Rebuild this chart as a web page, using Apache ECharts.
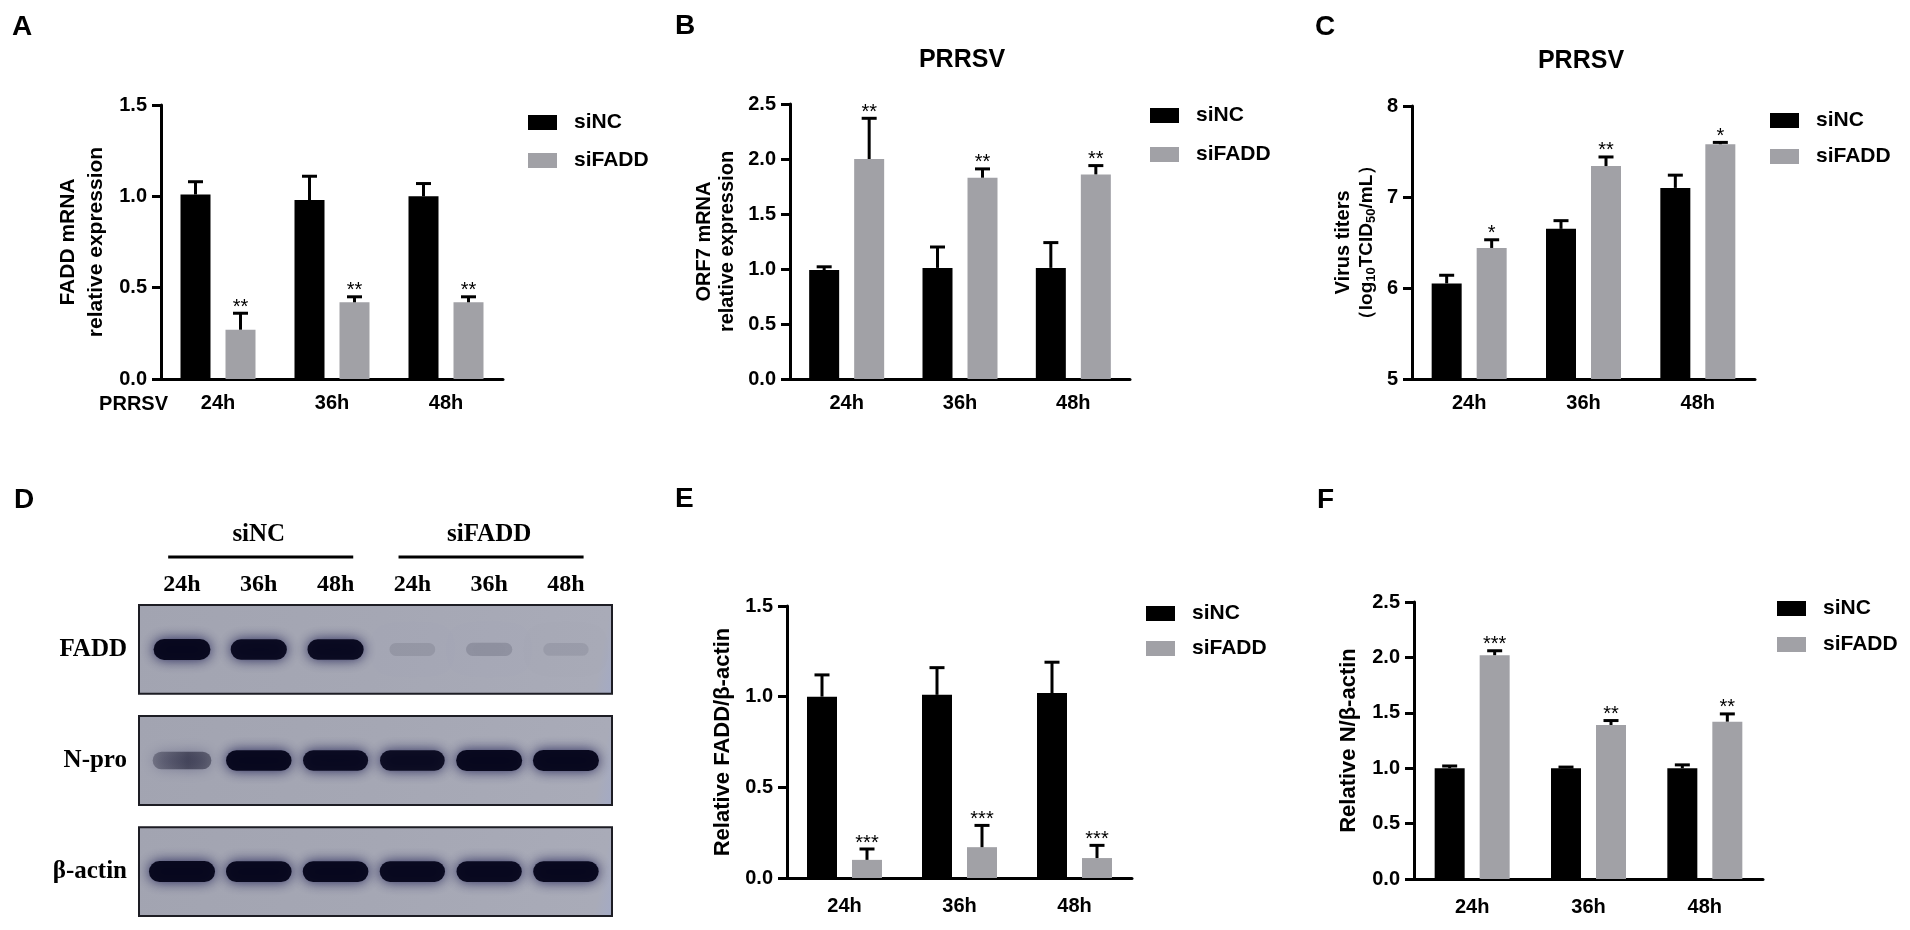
<!DOCTYPE html>
<html><head><meta charset="utf-8">
<script src="https://cdn.jsdelivr.net/npm/echarts@6/dist/echarts.min.js"></script>
<style>html,body{margin:0;padding:0;background:#fff}#c{width:1910px;height:930px}</style>
</head><body><div id="c"></div>
<script>
// ---------- data ----------
const timepoints = ['24h', '36h', '48h'];
const groupNames = ['siNC', 'siFADD'];

// Panel A: FADD mRNA relative expression
const aNC = [1.01, 0.98, 1.00];
const aNCsd = [0.07, 0.13, 0.07];
const aKD = [0.27, 0.42, 0.42];
const aKDsd = [0.09, 0.03, 0.03];
const aStars = ['**', '**', '**'];

// Panel B: ORF7 mRNA relative expression
const bNC = [0.99, 1.01, 1.01];
const bNCsd = [0.03, 0.19, 0.23];
const bKD = [2.00, 1.83, 1.86];
const bKDsd = [0.37, 0.08, 0.08];
const bStars = ['**', '**', '**'];

// Panel C: Virus titers (log10 TCID50/mL)
const cNC = [6.05, 6.65, 7.10];
const cNCsd = [0.09, 0.09, 0.14];
const cKD = [6.44, 7.34, 7.58];
const cKDsd = [0.09, 0.10, 0.02];
const cStars = ['*', '**', '*'];

// Panel E: Relative FADD/β-actin
const eNC = [1.00, 1.01, 1.02];
const eNCsd = [0.12, 0.15, 0.17];
const eKD = [0.10, 0.17, 0.11];
const eKDsd = [0.06, 0.12, 0.07];
const eStars = ['***', '***', '***'];

// Panel F: Relative N/β-actin
const fNC = [1.00, 1.00, 1.00];
const fNCsd = [0.02, 0.01, 0.03];
const fKD = [2.02, 1.39, 1.42];
const fKDsd = [0.04, 0.04, 0.07];
const fStars = ['***', '**', '**'];

// Panel D: western blot (relative band intensity per lane)
const blotRows = ['FADD', 'N-pro', 'β-actin'];
const laneLabels = ['24h', '36h', '48h', '24h', '36h', '48h'];
const faddBand = [1.00, 0.95, 0.95, 0.10, 0.14, 0.08];
const nproBand = [0.60, 0.97, 0.95, 0.93, 1.00, 1.00];
const actinBand = [1.00, 0.98, 0.98, 0.96, 0.96, 0.97];

// ---------- styling ----------
const FONT = 'Arial, "Liberation Sans", Helvetica, sans-serif';
const SERIF = '"Times New Roman", "Liberation Serif", serif';
const GRAY = '#a1a1a6';
const BAR_W = 30, BAR_GAP = 15;

const grids = [
  {left: 161, top: 105, width: 342, height: 274},  // A
  {left: 790, top: 104, width: 340, height: 275},  // B
  {left: 1412, top: 106, width: 343, height: 273}, // C
  {left: 787, top: 606, width: 345, height: 272},  // E
  {left: 1414, top: 602, width: 349, height: 277}, // F
  {left: 139, top: 605, width: 473, height: 311}   // D blot
];

function xAxisFor(i, tickLen, margin) {
  return {
    type: 'category', gridIndex: i, data: timepoints,
    axisLine: {lineStyle: {color: '#000', width: 3}},
    axisTick: {alignWithLabel: true, length: tickLen, lineStyle: {color: '#000', width: 3}},
    axisLabel: {color: '#000', fontFamily: FONT, fontWeight: 'bold', fontSize: 20, margin: margin},
    splitLine: {show: false}
  };
}
function yAxisFor(i, min, max, interval, decimals, name, nameGap, nameStyle) {
  return {
    type: 'value', gridIndex: i, min: min, max: max, interval: interval,
    axisLine: {show: true, lineStyle: {color: '#000', width: 3}},
    axisTick: {show: true, length: 9, lineStyle: {color: '#000', width: 3}},
    axisLabel: {color: '#000', fontFamily: FONT, fontWeight: 'bold', fontSize: 20, margin: 14,
      formatter: v => v.toFixed(decimals)},
    splitLine: {show: false},
    name: name, nameLocation: 'middle', nameRotate: 90, nameGap: nameGap,
    nameTextStyle: nameStyle
  };
}

function errRender(stars) {
  return function (params, api) {
    const i = api.value(0), top = api.value(1), s = api.value(2), mean = api.value(3);
    const pTop = api.coord([i, top]);
    const pMean = api.coord([i, mean]);
    const x = pTop[0] + (s === 0 ? -1 : 1) * (BAR_W + BAR_GAP) / 2;
    const children = [
      {type: 'line', shape: {x1: x, y1: pMean[1], x2: x, y2: pTop[1]}, style: {stroke: '#000', lineWidth: 3}},
      {type: 'line', shape: {x1: x - 7.5, y1: pTop[1], x2: x + 7.5, y2: pTop[1]}, style: {stroke: '#000', lineWidth: 3}}
    ];
    if (s === 1) {
      children.push({type: 'text', style: {text: stars[i], x: x, y: pTop[1] + 4, align: 'center',
        verticalAlign: 'bottom', font: '20px ' + FONT, fill: '#000'}});
    }
    return {type: 'group', children: children};
  };
}

function panelSeries(idx, nc, ncSd, kd, kdSd, stars) {
  const errData = nc.map((m, i) => [i, m + ncSd[i], 0, m]).concat(kd.map((m, i) => [i, m + kdSd[i], 1, m]));
  return [
    {type: 'bar', name: 'siNC', xAxisIndex: idx, yAxisIndex: idx, data: nc, barWidth: BAR_W, barGap: '50%',
      itemStyle: {color: '#000'}, silent: true, animation: false},
    {type: 'bar', name: 'siFADD', xAxisIndex: idx, yAxisIndex: idx, data: kd, barWidth: BAR_W, barGap: '50%',
      itemStyle: {color: GRAY}, silent: true, animation: false},
    {type: 'custom', xAxisIndex: idx, yAxisIndex: idx, data: errData, renderItem: errRender(stars),
      z: 5, silent: true, animation: false}
  ];
}

function legendAt(left, top, gap) {
  return {
    left: left, top: top, orient: 'vertical', icon: 'rect', itemWidth: 29, itemHeight: 15, itemGap: gap,
    data: groupNames, selectedMode: false,
    textStyle: {color: '#000', fontFamily: FONT, fontWeight: 'bold', fontSize: 21, lineHeight: 15, padding: [0, 0, 0, 12]}
  };
}

// ---------- blot renderers ----------
const LANE_MIN = -0.06, LANE_MAX = 6.1, ROW_H = 0.8;
function membraneRender(params, api) {
  const r = api.value(1);
  const p0 = api.coord([LANE_MIN, r]);
  const p1 = api.coord([LANE_MAX, r + ROW_H]);
  return {type: 'group', children: [
    {type: 'rect', shape: {x: p0[0], y: p0[1], width: p1[0] - p0[0], height: p1[1] - p0[1]},
      style: {fill: new echarts.graphic.LinearGradient(0, 0, 1, 1, [
        {offset: 0, color: '#a2a4b1'}, {offset: 0.5, color: '#a5a7b4'}, {offset: 0.96, color: '#a9abb8'}, {offset: 1, color: '#a3aac6'}
      ]), stroke: '#1d1d24', lineWidth: 2}},
    {type: 'text', style: {text: blotRows[r], x: p0[0] - 12, y: (p0[1] + p1[1]) / 2, align: 'right',
      verticalAlign: 'middle', font: 'bold 25px ' + SERIF, fill: '#000'}}
  ]};
}
function bandRender(params, api) {
  const lane = api.value(0), row = api.value(1), I = api.value(2);
  const c = api.coord([lane + 0.5, row + ROW_H / 2]);
  const pitch = api.size([1, 0])[0];
  const w = pitch * (row === 0 ? (0.58 + 0.16 * I) : (0.62 + 0.24 * I));
  const h = 12 + 9 * I;
  const a = Math.min(0.97, I);
  const core = 'rgba(6,6,28,' + a.toFixed(3) + ')';
  const halo = 'rgba(20,20,75,' + Math.min(0.9, a).toFixed(3) + ')';
  let fill = core;
  if (I > 0.3 && I < 0.8) {
    fill = new echarts.graphic.LinearGradient(0, 0, 1, 0, [
      {offset: 0, color: 'rgba(30,30,50,' + (a * 0.55).toFixed(3) + ')'},
      {offset: 0.6, color: 'rgba(20,20,40,' + (a * 0.9).toFixed(3) + ')'},
      {offset: 1, color: 'rgba(15,15,35,' + (a * 0.7).toFixed(3) + ')'}
    ]);
  }
  return {type: 'rect', shape: {x: c[0] - w / 2, y: c[1] - h / 2, width: w, height: h, r: h / 2},
    style: {fill: fill, shadowBlur: I < 0.3 ? 18 : 13, shadowColor: halo}};
}
function laneLabelRender(params, api) {
  const lane = api.value(0);
  const p = api.coord([lane + 0.5, 0]);
  return {type: 'text', style: {text: laneLabels[lane], x: p[0], y: p[1] - 20, align: 'center',
    verticalAlign: 'middle', font: 'bold 24px ' + SERIF, fill: '#000'}};
}
function groupLabelRender(params, api) {
  const g = api.value(0);
  const pc = api.coord([g * 3 + 1.5, 0]);
  const pa = api.coord([g * 3 + 0.32, 0]);
  const pb = api.coord([g * 3 + 2.73, 0]);
  return {type: 'group', children: [
    {type: 'text', style: {text: groupNames[g], x: pc[0], y: pc[1] - 70, align: 'center', verticalAlign: 'middle',
      font: 'bold 25px ' + SERIF, fill: '#000'}},
    {type: 'line', shape: {x1: pa[0], y1: pa[1] - 48, x2: pb[0], y2: pb[1] - 48}, style: {stroke: '#000', lineWidth: 3}}
  ]};
}

const bandData = [];
[faddBand, nproBand, actinBand].forEach((arr, r) => arr.forEach((v, l) => bandData.push([l, r, v])));

// ---------- option ----------
const nameBold = (size, lh) => ({color: '#000', fontFamily: FONT, fontWeight: 'bold', fontSize: size, lineHeight: lh});

const option = {
  backgroundColor: '#fff',
  animation: false,
  grid: grids.map(g => Object.assign({containLabel: false}, g)),
  xAxis: [
    xAxisFor(0, 8, 14), xAxisFor(1, 8, 14), xAxisFor(2, 8, 14), xAxisFor(3, 10, 18), xAxisFor(4, 10, 18),
    {type: 'value', gridIndex: 5, min: LANE_MIN, max: LANE_MAX, show: false}
  ],
  yAxis: [
    yAxisFor(0, 0, 1.5, 0.5, 1, 'FADD mRNA\nrelative expression', 51, nameBold(21, 28)),
    yAxisFor(1, 0, 2.5, 0.5, 1, 'ORF7 mRNA\nrelative expression', 51, nameBold(20, 23)),
    yAxisFor(2, 5, 8, 1, 0, '{a|Virus titers}\n{b|（log}{s|10}{b|TCID}{s|50}{b|/mL）}', 34, {
      color: '#000', fontFamily: FONT, fontWeight: 'bold', fontSize: 20, lineHeight: 23,
      rich: {
        a: {fontFamily: FONT, fontWeight: 'bold', fontSize: 20, lineHeight: 23, color: '#000'},
        b: {fontFamily: FONT, fontWeight: 'bold', fontSize: 19, lineHeight: 23, color: '#000'},
        s: {fontFamily: FONT, fontWeight: 'bold', fontSize: 13, lineHeight: 14, verticalAlign: 'bottom', color: '#000'}
      }
    }),
    yAxisFor(3, 0, 1.5, 0.5, 1, 'Relative FADD/β-actin', 52, nameBold(22, 24)),
    yAxisFor(4, 0, 2.5, 0.5, 1, 'Relative N/β-actin', 53, nameBold(22, 24)),
    {type: 'value', gridIndex: 5, min: 0, max: 3 - (1 - ROW_H), inverse: true, show: false}
  ],
  legend: [
    legendAt(523, 107, 17),
    legendAt(1145, 100, 18),
    legendAt(1765, 105, 15),
    legendAt(1141, 598, 14),
    legendAt(1772, 593, 15)
  ],
  graphic: [
    {type: 'text', left: 12, top: 13, style: {text: 'A', font: 'bold 28px ' + FONT, fill: '#000'}},
    {type: 'text', left: 675, top: 12, style: {text: 'B', font: 'bold 28px ' + FONT, fill: '#000'}},
    {type: 'text', left: 1315, top: 13, style: {text: 'C', font: 'bold 28px ' + FONT, fill: '#000'}},
    {type: 'text', left: 14, top: 486, style: {text: 'D', font: 'bold 28px ' + FONT, fill: '#000'}},
    {type: 'text', left: 675, top: 485, style: {text: 'E', font: 'bold 28px ' + FONT, fill: '#000'}},
    {type: 'text', left: 1317, top: 486, style: {text: 'F', font: 'bold 28px ' + FONT, fill: '#000'}},
    {type: 'text', x: 962, y: 60, style: {text: 'PRRSV', align: 'center', verticalAlign: 'middle', font: 'bold 25px ' + FONT, fill: '#000'}},
    {type: 'text', x: 1581, y: 61, style: {text: 'PRRSV', align: 'center', verticalAlign: 'middle', font: 'bold 25px ' + FONT, fill: '#000'}},
    {type: 'text', x: 168, y: 404, style: {text: 'PRRSV', align: 'right', verticalAlign: 'middle', font: 'bold 20px ' + FONT, fill: '#000'}}
  ],
  series: [].concat(
    panelSeries(0, aNC, aNCsd, aKD, aKDsd, aStars),
    panelSeries(1, bNC, bNCsd, bKD, bKDsd, bStars),
    panelSeries(2, cNC, cNCsd, cKD, cKDsd, cStars),
    panelSeries(3, eNC, eNCsd, eKD, eKDsd, eStars),
    panelSeries(4, fNC, fNCsd, fKD, fKDsd, fStars),
    [
      {type: 'custom', xAxisIndex: 5, yAxisIndex: 5, data: blotRows.map((r, i) => [0, i]), renderItem: membraneRender, z: 1, silent: true},
      {type: 'custom', xAxisIndex: 5, yAxisIndex: 5, data: bandData, renderItem: bandRender, z: 2, silent: true},
      {type: 'custom', xAxisIndex: 5, yAxisIndex: 5, data: laneLabels.map((t, i) => [i, 0]), renderItem: laneLabelRender, z: 2, silent: true},
      {type: 'custom', xAxisIndex: 5, yAxisIndex: 5, data: groupNames.map((t, i) => [i, 0]), renderItem: groupLabelRender, z: 2, silent: true}
    ]
  )
};

const chart = echarts.init(document.getElementById('c'), null, {renderer: 'canvas'});
chart.setOption(option);
</script>
</body></html>
